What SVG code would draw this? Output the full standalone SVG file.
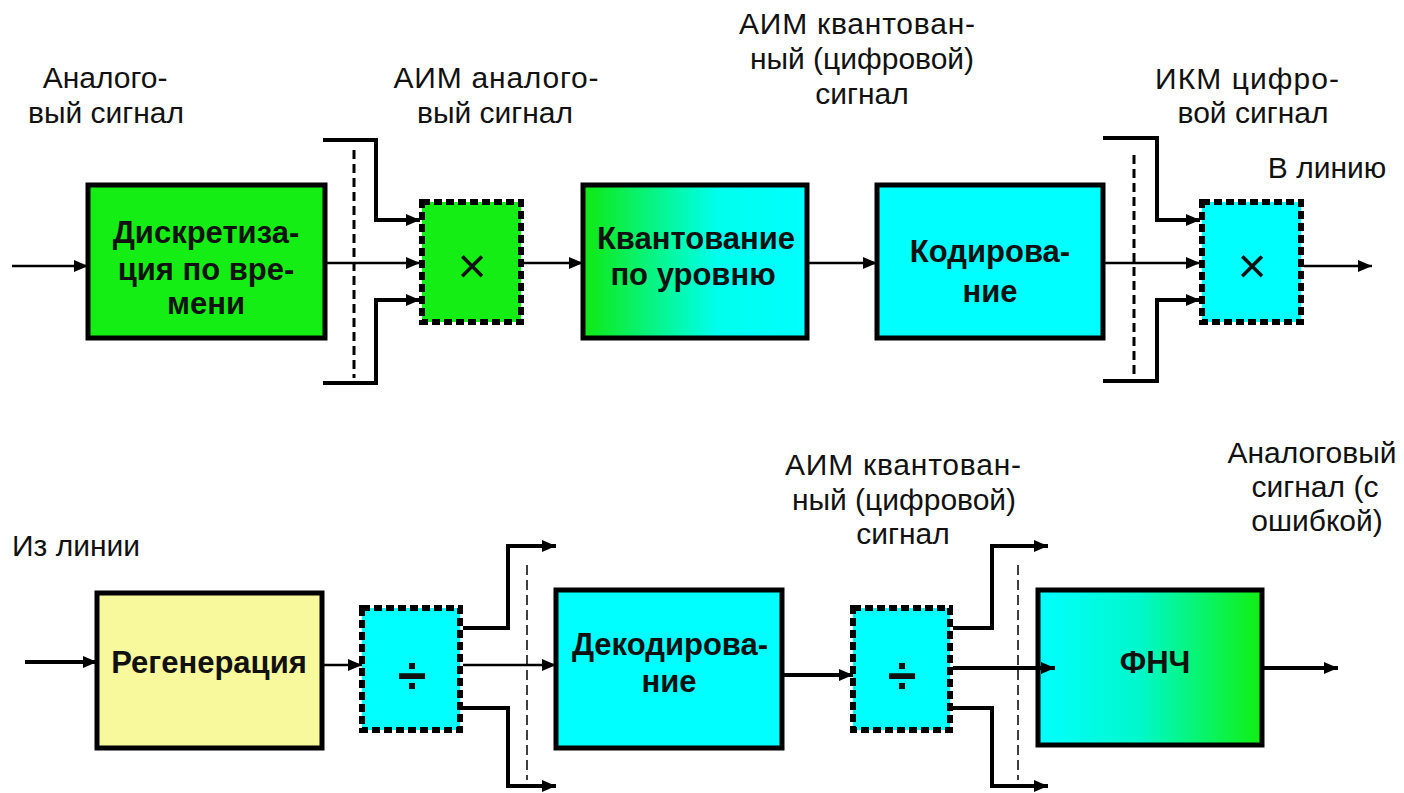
<svg xmlns="http://www.w3.org/2000/svg" width="1404" height="793" viewBox="0 0 1404 793">
<defs>
<marker id="ah" markerUnits="userSpaceOnUse" markerWidth="14" markerHeight="12" refX="14" refY="6" orient="auto"><path d="M0,0 L14,6 L0,12 z" fill="#000"/></marker>
<linearGradient id="gq" x1="0" y1="0" x2="1" y2="0"><stop offset="0" stop-color="#10e810"/><stop offset="0.6" stop-color="#00ffee"/><stop offset="1" stop-color="#00ffff"/></linearGradient>
<linearGradient id="gf" x1="0" y1="0" x2="1" y2="0"><stop offset="0" stop-color="#00ffff"/><stop offset="0.45" stop-color="#00f8cc"/><stop offset="1" stop-color="#10f010"/></linearGradient>
<style>
.blk{stroke:#000;stroke-width:5}
.dot{stroke:#000;stroke-width:6;stroke-dasharray:8 4}
.bt{font-family:"Liberation Sans",Arial,sans-serif;font-weight:bold;font-size:31px;text-anchor:middle;fill:#111}
.lb{font-family:"Liberation Sans",Arial,sans-serif;font-size:30px;text-anchor:middle;fill:#111}
.op{font-family:"Liberation Sans",Arial,sans-serif;text-anchor:middle;fill:#111}
.c{fill:none;stroke:#000;stroke-width:2.5}
.ct{fill:none;stroke:#000;stroke-width:4}
.ds{fill:none;stroke:#000;stroke-width:3;stroke-dasharray:9 5}
.dt{fill:none;stroke:#000;stroke-width:1.5;stroke-dasharray:10 5}
</style>
</defs>
<g id="labels">
<text class="lb" x="105" y="88">Аналого-</text>
<text class="lb" x="106" y="123">вый сигнал</text>
<text class="lb" x="496" y="88" textLength="205" lengthAdjust="spacing">АИМ аналого-</text>
<text class="lb" x="495" y="123">вый сигнал</text>
<text class="lb" x="857" y="34" textLength="236" lengthAdjust="spacing">АИМ квантован-</text>
<text class="lb" x="862" y="69">ный (цифровой)</text>
<text class="lb" x="862" y="104">сигнал</text>
<text class="lb" x="1247" y="89" textLength="184" lengthAdjust="spacing">ИКМ цифро-</text>
<text class="lb" x="1253" y="123">вой сигнал</text>
<text class="lb" x="1327" y="178">В линию</text>
<text class="lb" x="76" y="556">Из линии</text>
<text class="lb" x="903" y="475" textLength="236" lengthAdjust="spacing">АИМ квантован-</text>
<text class="lb" x="904" y="510">ный (цифровой)</text>
<text class="lb" x="903" y="544">сигнал</text>
<text class="lb" x="1312" y="463">Аналоговый</text>
<text class="lb" x="1315" y="497">сигнал (с</text>
<text class="lb" x="1317" y="531">ошибкой)</text>
</g>
<g id="n-discr">
<rect class="blk" x="88" y="185" width="237" height="153" fill="#15ee15"/>
<text class="bt" x="206" y="243">Дискретиза-</text>
<text class="bt" x="206" y="280">ция по вре-</text>
<text class="bt" x="206" y="314">мени</text>
</g>
<g id="n-mul1">
<rect class="dot" x="422" y="202" width="99" height="120" fill="#15ee15"/>
<text class="op" x="472" y="283" font-size="50">×</text>
</g>
<g id="n-quant">
<rect class="blk" x="583" y="185" width="224" height="153" fill="url(#gq)"/>
<text class="bt" x="696" y="249">Квантование</text>
<text class="bt" x="693" y="285">по уровню</text>
</g>
<g id="n-code">
<rect class="blk" x="877" y="185" width="226" height="153" fill="#00ffff"/>
<text class="bt" x="990" y="262">Кодирова-</text>
<text class="bt" x="990" y="302">ние</text>
</g>
<g id="n-mul2">
<rect class="dot" x="1202" y="202" width="99" height="120" fill="#00ffff"/>
<text class="op" x="1252" y="283" font-size="50">×</text>
</g>
<g id="n-regen">
<rect class="blk" x="97" y="593" width="225" height="155" fill="#f8f89c"/>
<text class="bt" x="209" y="673">Регенерация</text>
</g>
<g id="n-div1">
<rect class="dot" x="362" y="608" width="98" height="122" fill="#00ffff"/>
<text class="op" x="412" y="693" font-size="52" font-weight="bold">÷</text>
</g>
<g id="n-decode">
<rect class="blk" x="556" y="590" width="226" height="158" fill="#00ffff"/>
<text class="bt" x="670" y="655">Декодирова-</text>
<text class="bt" x="669" y="692">ние</text>
</g>
<g id="n-div2">
<rect class="dot" x="853" y="608" width="97" height="122" fill="#00ffff"/>
<text class="op" x="902" y="693" font-size="52" font-weight="bold">÷</text>
</g>
<g id="n-lpf">
<rect class="blk" x="1038" y="590" width="224" height="155" fill="url(#gf)"/>
<text class="bt" x="1155" y="673">ФНЧ</text>
</g>
<g id="connectors">
<path class="c" d="M12,266 H88" marker-end="url(#ah)"/>
<path class="ds" d="M354,150 V378"/>
<path class="c" d="M327,263 H420" marker-end="url(#ah)"/>
<path class="ct" d="M323,140 H376 V220 H420" marker-end="url(#ah)"/>
<path class="ct" d="M323,383 H376 V300 H420" marker-end="url(#ah)"/>
<path class="c" d="M524,263 H583" marker-end="url(#ah)"/>
<path class="c" d="M809,263 H877" marker-end="url(#ah)"/>
<path class="ds" d="M1134,155 V376"/>
<path class="c" d="M1105,263 H1200" marker-end="url(#ah)"/>
<path class="ct" d="M1103,138 H1157 V220 H1200" marker-end="url(#ah)"/>
<path class="ct" d="M1103,381 H1157 V300 H1200" marker-end="url(#ah)"/>
<path class="c" d="M1304,266 H1372" marker-end="url(#ah)"/>
<path class="ct" d="M25,662 H97" marker-end="url(#ah)"/>
<path class="c" d="M324,665 H362" marker-end="url(#ah)"/>
<path class="dt" d="M527,565 V780"/>
<path class="c" d="M463,665 H556" marker-end="url(#ah)"/>
<path class="ct" d="M463,628 H508 V546 H556" marker-end="url(#ah)"/>
<path class="ct" d="M463,708 H508 V786 H556" marker-end="url(#ah)"/>
<path class="ct" d="M784,675 H853" marker-end="url(#ah)"/>
<path class="dt" d="M1018,565 V780"/>
<path class="ct" d="M953,668 H1055" marker-end="url(#ah)"/>
<path class="ct" d="M953,628 H992 V546 H1048" marker-end="url(#ah)"/>
<path class="ct" d="M953,708 H992 V786 H1048" marker-end="url(#ah)"/>
<path class="ct" d="M1264,668 H1338" marker-end="url(#ah)"/>
</g>
</svg>
